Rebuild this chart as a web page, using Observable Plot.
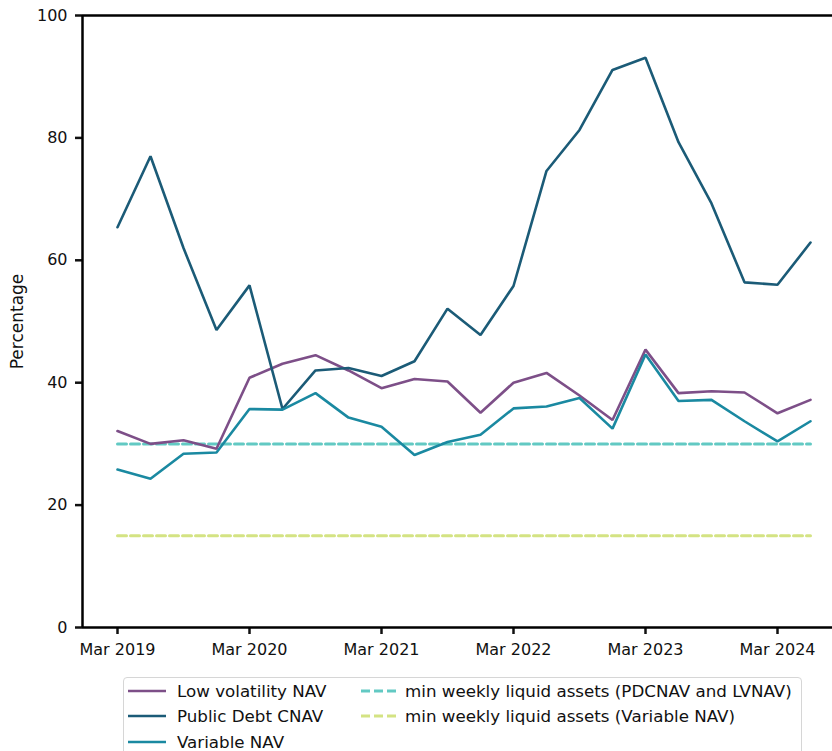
<!DOCTYPE html>
<html>
<head>
<meta charset="utf-8">
<script src="https://cdn.jsdelivr.net/npm/d3@7"></script>
<script src="https://cdn.jsdelivr.net/npm/@observablehq/plot@0.6"></script>
<style>
  html, body { margin: 0; padding: 0; background: #fff; }
  #wrap { position: relative; width: 832px; height: 751px; overflow: hidden; font-family: "DejaVu Sans", sans-serif; }
  #chart { position: absolute; left: 0; top: 0; }
  #legend {
    position: absolute; left: 123px; top: 677px; width: 679px; height: 90px;
    border: 1px solid #d6d6d6; border-radius: 4px; box-sizing: border-box;
    font-size: 16.7px; color: #111;
  }
  .item { position: absolute; display: flex; align-items: center; height: 20px; white-space: nowrap; }
</style>
</head>
<body>
<div id="wrap">
  <div id="chart"></div>
  <div id="legend"></div>
</div>
<script>
// Quarter-end observations, Mar 2019 – Jun 2024
const quarters = [
  "2019-03", "2019-06", "2019-09", "2019-12",
  "2020-03", "2020-06", "2020-09", "2020-12",
  "2021-03", "2021-06", "2021-09", "2021-12",
  "2022-03", "2022-06", "2022-09", "2022-12",
  "2023-03", "2023-06", "2023-09", "2023-12",
  "2024-03", "2024-06"
];

// Weekly liquid assets, % of total assets
const lowVolatilityNAV = [32.1, 30.0, 30.6, 29.2, 40.8, 43.1, 44.5, 42.0, 39.1, 40.6, 40.2,
                          35.1, 40.0, 41.6, 37.9, 33.9, 45.4, 38.3, 38.6, 38.4, 35.0, 37.2];
const publicDebtCNAV   = [65.4, 77.0, 62.0, 48.6, 55.9, 35.7, 42.0, 42.4, 41.1, 43.5, 52.1,
                          47.8, 55.8, 74.6, 81.3, 91.1, 93.1, 79.3, 69.3, 56.4, 56.0, 62.9];
const variableNAV      = [25.8, 24.3, 28.4, 28.6, 35.7, 35.6, 38.3, 34.3, 32.8, 28.2, 30.3,
                          31.5, 35.8, 36.1, 37.5, 32.5, 44.6, 37.0, 37.2, 33.7, 30.4, 33.7];

// Regulatory minimums
const minWeeklyLVNAV = 30;
const minWeeklyVNAV = 15;

const tickQuarters = ["2019-03", "2020-03", "2021-03", "2022-03", "2023-03", "2024-03"];
const tickLabels = ["Mar 2019", "Mar 2020", "Mar 2021", "Mar 2022", "Mar 2023", "Mar 2024"];
const yTicks = [0, 20, 40, 60, 80, 100];

const series = [
  {name: "Low volatility NAV", values: lowVolatilityNAV, color: "#7d4f88"},
  {name: "Public Debt CNAV", values: publicDebtCNAV, color: "#1b5b77"},
  {name: "Variable NAV", values: variableNAV, color: "#1a89a1"}
];
const limits = [
  {name: "min weekly liquid assets (PDCNAV and LVNAV)", value: minWeeklyLVNAV, color: "#62c9c3"},
  {name: "min weekly liquid assets (Variable NAV)", value: minWeeklyVNAV, color: "#d4e383"}
];

const LINE_W = 2.6, DASH_W = 3, DASH = "9,4";

const rows = series.flatMap(s => s.values.map((v, i) => ({series: s.name, i, v})));
const limitRows = limits.flatMap(l => [0, quarters.length - 1].map(i => ({series: l.name, i, v: l.value})));

const xDomain = [-35 / 33, quarters.length - 1 + 22 / 33];
const tickIdx = tickQuarters.map(q => quarters.indexOf(q));

const chart = Plot.plot({
  width: 832,
  height: 670,
  marginLeft: 82,
  marginRight: 0,
  marginTop: 15,
  marginBottom: 43,
  style: {fontFamily: "DejaVu Sans, sans-serif", fontSize: "16px", color: "#111", background: "transparent"},
  x: {type: "linear", domain: xDomain},
  y: {domain: [0, 100]},
  marks: [
    Plot.axisX({ticks: tickIdx, tickFormat: d => tickLabels[tickIdx.indexOf(d)], tickSize: 7, tickPadding: 9,
                strokeWidth: 2.5, fontSize: 16, label: null}),
    Plot.axisY({ticks: yTicks, tickSize: 7, tickPadding: 8, strokeWidth: 2.5, fontSize: 16, tickFormat: d => String(d),
                label: null}),
    Plot.text(["Percentage"], {frameAnchor: "left", textAnchor: "middle", dx: -65, rotate: -90, fontSize: 17, fill: "#111"}),
    ...limits.map(l => Plot.line(limitRows.filter(d => d.series === l.name), {
      x: "i", y: "v", stroke: l.color, strokeWidth: DASH_W, strokeDasharray: DASH
    })),
    ...series.map(s => Plot.line(rows.filter(d => d.series === s.name), {
      x: "i", y: "v", stroke: s.color, strokeWidth: LINE_W, strokeLinejoin: "miter"
    })),
    Plot.ruleX([xDomain[0]], {stroke: "#000", strokeWidth: 2.5}),
    Plot.ruleY([0, 100], {stroke: "#000", strokeWidth: 2.5})
  ]
});
document.getElementById("chart").appendChild(chart);

// Legend
const legend = document.getElementById("legend");
function addItem(entry, left, top, dashed, gap) {
  const el = document.createElement("div");
  el.className = "item";
  el.style.left = left + "px";
  el.style.top = top + "px";
  el.innerHTML = `<svg width="38" height="6" style="margin-right:${gap}px"><line x1="0" x2="38" y1="3" y2="3" stroke="${entry.color}"
    stroke-width="${dashed ? DASH_W : LINE_W}" ${dashed ? `stroke-dasharray="${DASH}"` : ""}/></svg><span>${entry.name}</span>`;
  legend.appendChild(el);
}
series.forEach((s, k) => addItem(s, 4, 3 + k * 25.3, false, 11));
limits.forEach((l, k) => addItem(l, 237, 3 + k * 25.3, true, 6));
</script>
</body>
</html>
